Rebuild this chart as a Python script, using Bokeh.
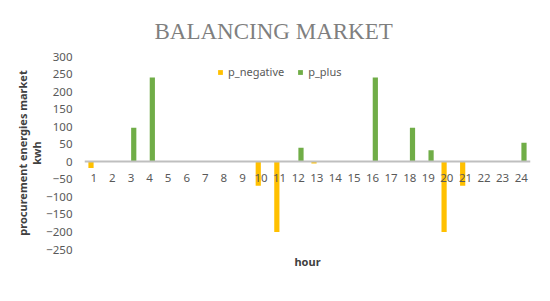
from bokeh.plotting import figure
from bokeh.models import ColumnDataSource, FactorRange, Range1d, Legend, LegendItem, Title, FixedTicker
from bokeh.transform import dodge
from bokeh.embed import file_html
from bokeh.resources import INLINE

hours = [str(h) for h in range(1, 25)]
p_negative = [-18, 0, 0, 0, 0, 0, 0, 0, 0, -68, -200, 0, -5, 0, 0, 0, 0, 0, 0, -200, -68, 0, 0, 0]
p_plus = [0, 0, 97, 240, 0, 0, 0, 0, 0, 0, 0, 40, 0, 0, 0, 240, 0, 97, 33, 0, 0, 0, 0, 54]
y_ticks = list(range(-250, 301, 50))

src = ColumnDataSource(dict(hour=hours, neg=p_negative, plus=p_plus))

p = figure(width=534, height=285, output_backend="svg", toolbar_location=None,
           x_range=FactorRange(factors=hours, range_padding=0),
           y_range=Range1d(-250, 300),
           min_border_left=84, min_border_right=4, min_border_top=56, min_border_bottom=36)
p.background_fill_color = "white"
p.border_fill_color = "white"
p.outline_line_color = None
p.xgrid.grid_line_color = None
p.ygrid.grid_line_color = None

r1 = p.vbar(x=dodge("hour", -0.15, range=p.x_range), top="neg", width=0.28, source=src,
            fill_color="#FFC000", line_color=None)
r2 = p.vbar(x=dodge("hour", 0.15, range=p.x_range), top="plus", width=0.28, source=src,
            fill_color="#70AD47", line_color=None)

font = "Noto Sans"
p.yaxis.ticker = FixedTicker(ticks=y_ticks)
p.yaxis.axis_line_color = None
p.yaxis.major_tick_line_color = None
p.yaxis.minor_tick_line_color = None
p.yaxis.major_tick_out = 0
p.yaxis.major_tick_in = 0
p.yaxis.major_label_text_font = font
p.yaxis.major_label_text_font_size = "11.5px"
p.yaxis.major_label_text_color = "#595959"
p.yaxis.major_label_standoff = 12
p.yaxis.axis_label = "procurement energies market\nkwh"
p.yaxis.axis_label_text_font = font
p.yaxis.axis_label_text_font_size = "11px"
p.yaxis.axis_label_text_font_style = "bold"
p.yaxis.axis_label_text_color = "#404040"
p.yaxis.axis_label_text_line_height = 0.95
p.yaxis.axis_label_standoff = -1

p.xaxis.fixed_location = 0
p.xaxis.axis_line_color = "#BFBFBF"
p.xaxis.axis_line_width = 2
p.xaxis.major_tick_line_color = None
p.xaxis.minor_tick_line_color = None
p.xaxis.major_tick_out = 0
p.xaxis.major_tick_in = 0
p.xaxis.major_label_text_font = font
p.xaxis.major_label_text_font_size = "11.5px"
p.xaxis.major_label_text_color = "#595959"
p.xaxis.major_label_standoff = 12

p.add_layout(Title(text="hour", align="center", text_font=font, text_font_size="11px",
                   text_font_style="bold", text_color="#404040", standoff=4), "below")

p.title = Title(text="BALANCING MARKET", align="left", offset=70, standoff=25,
                text_font="Liberation Serif", text_font_size="23px",
                text_font_style="normal", text_color="#7F7F7F")

legend = Legend(items=[LegendItem(label="p_negative", renderers=[r1]),
                       LegendItem(label="p_plus", renderers=[r2])],
                orientation="horizontal", location=(133, 170),
                border_line_color=None, background_fill_alpha=0,
                label_text_font=font, label_text_font_size="11px", label_text_color="#595959",
                glyph_width=6, glyph_height=6, label_standoff=5, spacing=13,
                padding=0, margin=0)
p.add_layout(legend, "center")

open("out.html", "w").write(file_html(p, INLINE))
